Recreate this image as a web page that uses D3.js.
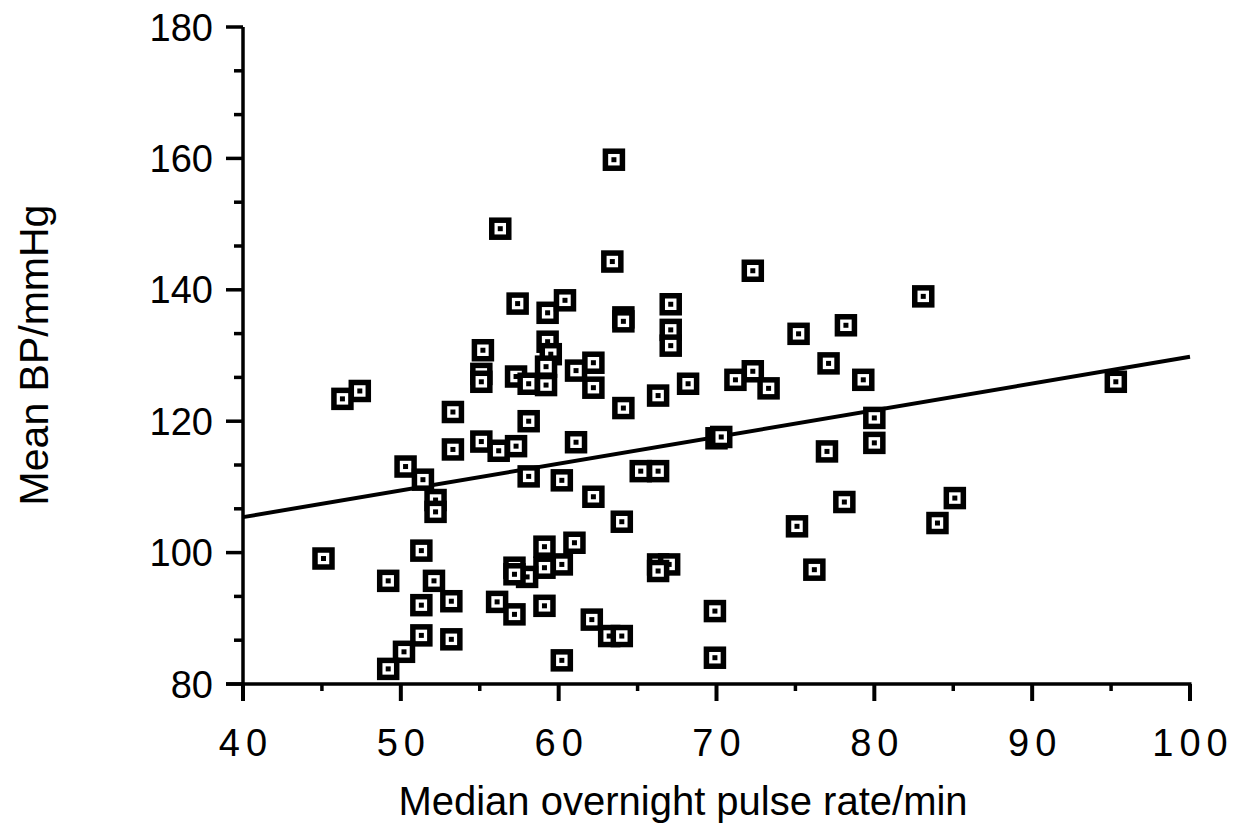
<!DOCTYPE html>
<meta charset="utf-8">
<style>
body { margin: 0; background: #fff; }
svg { display: block; }
.lbl { font-family: "Liberation Sans", Arial, sans-serif; fill: #000; }
</style>
<body>
<svg width="1246" height="823"></svg>
<script src="https://cdn.jsdelivr.net/npm/d3@7"></script>
<script>
// pulse rate (x) and mean BP (y)
var pulse = [63.5, 56.3, 63.4, 72.3, 83.1, 57.4, 59.3, 60.4, 64.1, 64.1,
  67.1, 67.1, 67.1, 75.2, 78.2, 55.2, 55.1, 55.1, 59.3, 59.5,
  59.2, 59.2, 57.3, 58.1, 61.1, 62.2, 62.2, 47.4, 46.3, 53.3,
  58.1, 64.1, 66.3, 68.2, 77.1, 79.3, 72.3, 71.2, 73.3, 95.3,
  53.3, 55.1, 56.2, 57.3, 61.1, 50.3, 51.4, 58.1, 60.2, 65.2,
  66.3, 52.2, 52.2, 62.2, 64.0, 70.0, 70.3, 80.0, 80.0, 77.0,
  78.1, 75.1, 76.2, 85.1, 84.0, 45.1, 51.3, 49.2, 52.1, 51.3,
  53.2, 51.3, 53.2, 50.2, 49.2, 56.1, 57.2, 59.1, 59.1, 61.0,
  60.2, 59.1, 58.0, 57.2, 57.2, 62.1, 63.2, 64.0, 60.2, 66.3,
  67.0, 66.3, 69.9, 69.9];
var meanBP = [159.8, 149.3, 144.3, 142.9, 139.0, 137.9, 136.5, 138.4, 135.8, 135.2,
  137.8, 133.9, 131.5, 133.3, 134.6, 130.8, 127.2, 126.0, 132.1, 130.2,
  128.3, 125.5, 126.8, 125.7, 127.7, 128.9, 125.1, 124.6, 123.4, 121.4,
  120.0, 122.0, 123.9, 125.7, 128.8, 126.3, 127.6, 126.3, 125.0, 126.0,
  115.7, 116.9, 115.5, 116.2, 116.8, 113.1, 111.1, 111.6, 111.0, 112.4,
  112.4, 108.0, 106.2, 108.5, 104.7, 117.4, 117.6, 120.5, 116.7, 115.4,
  107.7, 104.0, 97.4, 108.3, 104.5, 99.1, 100.3, 95.7, 95.7, 92.0,
  92.6, 87.4, 86.8, 84.9, 82.3, 92.5, 90.6, 91.9, 100.9, 101.5,
  98.2, 97.7, 96.3, 97.7, 96.7, 89.8, 87.3, 87.3, 83.6, 98.2,
  98.2, 97.2, 91.1, 84.0];

// regression line end points
var fitX = [40, 100];
var fitY = [105.4, 129.8];

var xTicks = [40, 50, 60, 70, 80, 90, 100];
var yTicks = [80, 100, 120, 140, 160, 180];

var svg = d3.select("svg");

var x = d3.scaleLinear().domain([40, 100]).range([243, 1190]);
var y = d3.scaleLinear().domain([80, 180]).range([684, 27]);

var axisG = svg.append("g")
    .attr("stroke", "#000")
    .attr("fill", "none");

// y axis
axisG.append("line")
    .attr("x1", x(40)).attr("x2", x(40))
    .attr("y1", y(180)).attr("y2", y(80))
    .attr("stroke-width", 3.5);

axisG.selectAll(".ymaj")
  .data(yTicks)
  .enter().append("line")
    .attr("x1", x(40) - 17).attr("x2", x(40))
    .attr("y1", function(d) { return y(d); })
    .attr("y2", function(d) { return y(d); })
    .attr("stroke-width", 3.5);

var yMinor = [];
yTicks.slice(0, -1).forEach(function(t) {
  yMinor.push(t + 20 / 3, t + 40 / 3);
});
axisG.selectAll(".ymin")
  .data(yMinor)
  .enter().append("line")
    .attr("x1", x(40) - 9).attr("x2", x(40))
    .attr("y1", function(d) { return y(d); })
    .attr("y2", function(d) { return y(d); })
    .attr("stroke-width", 3.5);

// x axis
axisG.append("line")
    .attr("x1", x(40) - 17).attr("x2", x(100) + 1.5)
    .attr("y1", y(80)).attr("y2", y(80))
    .attr("stroke-width", 3.5);

axisG.selectAll(".xmaj")
  .data(xTicks)
  .enter().append("line")
    .attr("x1", function(d) { return x(d); })
    .attr("x2", function(d) { return x(d); })
    .attr("y1", y(80)).attr("y2", y(80) + 17)
    .attr("stroke-width", 4);

axisG.selectAll(".xmin")
  .data(xTicks.slice(0, -1).map(function(d) { return d + 5; }))
  .enter().append("line")
    .attr("x1", function(d) { return x(d); })
    .attr("x2", function(d) { return x(d); })
    .attr("y1", y(80)).attr("y2", y(80) + 7)
    .attr("stroke-width", 3.5);

// tick labels
svg.selectAll(".ylab")
  .data(yTicks)
  .enter().append("text")
    .attr("class", "lbl")
    .attr("x", 213)
    .attr("y", function(d) { return y(d); })
    .attr("dy", "0.36em")
    .attr("text-anchor", "end")
    .style("font-size", "38px")
    .text(function(d) { return d; });

svg.selectAll(".xlab")
  .data(xTicks)
  .enter().append("text")
    .attr("class", "lbl")
    .attr("x", function(d) { return x(d) + 3; })
    .attr("y", 756)
    .attr("text-anchor", "middle")
    .style("font-size", "38px")
    .style("letter-spacing", "6px")
    .text(function(d) { return d; });

// axis titles
svg.append("text")
    .attr("class", "lbl")
    .attr("x", 683)
    .attr("y", 815)
    .attr("text-anchor", "middle")
    .style("font-size", "40px")
    .text("Median overnight pulse rate/min");

svg.append("text")
    .attr("class", "lbl")
    .attr("transform", "translate(48,355) rotate(-90)")
    .attr("text-anchor", "middle")
    .style("font-size", "41px")
    .text("Mean BP/mmHg");

// fitted line
svg.append("line")
    .attr("x1", x(fitX[0])).attr("y1", y(fitY[0]))
    .attr("x2", x(fitX[1])).attr("y2", y(fitY[1]))
    .attr("stroke", "#000")
    .attr("stroke-width", 4);

// markers: thick square with a dot
var pts = pulse.map(function(p, i) { return [p, meanBP[i]]; });
var mk = svg.selectAll(".pt")
  .data(pts)
  .enter().append("g")
    .attr("transform", function(d) { return "translate(" + x(d[0]) + "," + y(d[1]) + ")"; });

mk.append("rect")
    .attr("x", -8.5).attr("y", -8.5)
    .attr("width", 17).attr("height", 17)
    .attr("fill", "#fff")
    .attr("stroke", "#000")
    .attr("stroke-width", 5.5);

mk.append("rect")
    .attr("x", -2.5).attr("y", -2.5)
    .attr("width", 5).attr("height", 5)
    .attr("fill", "#000");
</script>
</body>
